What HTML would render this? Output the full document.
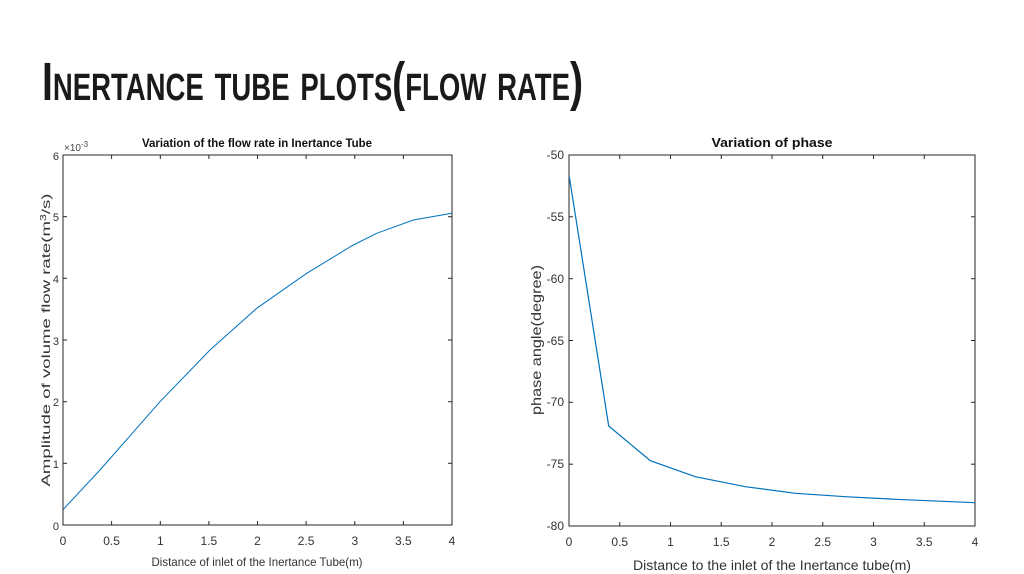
<!DOCTYPE html>
<html><head><style>html,body{margin:0;padding:0;background:#fff;}svg{display:block}</style></head>
<body>
<svg width="1024" height="574" xmlns="http://www.w3.org/2000/svg" font-family="Liberation Sans, sans-serif">
<rect width="1024" height="574" fill="#fff"/>
<text x="42" y="100" font-family="Liberation Sans Narrow, Liberation Sans, sans-serif" font-weight="bold" font-size="54" style="font-variant:small-caps" textLength="541" lengthAdjust="spacingAndGlyphs" fill="#1a1a1a">Inertance tube plots(flow rate)</text>

<!-- Left plot -->
<g stroke="#262626" stroke-width="1" fill="none">
<rect x="63" y="155" width="389" height="370"/>
</g>
<g stroke="#262626" stroke-width="1">
<line x1="111.6" y1="525" x2="111.6" y2="521"/><line x1="160.3" y1="525" x2="160.3" y2="521"/><line x1="208.9" y1="525" x2="208.9" y2="521"/><line x1="257.5" y1="525" x2="257.5" y2="521"/><line x1="306.1" y1="525" x2="306.1" y2="521"/><line x1="354.8" y1="525" x2="354.8" y2="521"/><line x1="403.4" y1="525" x2="403.4" y2="521"/>
<line x1="111.6" y1="155" x2="111.6" y2="159"/><line x1="160.3" y1="155" x2="160.3" y2="159"/><line x1="208.9" y1="155" x2="208.9" y2="159"/><line x1="257.5" y1="155" x2="257.5" y2="159"/><line x1="306.1" y1="155" x2="306.1" y2="159"/><line x1="354.8" y1="155" x2="354.8" y2="159"/><line x1="403.4" y1="155" x2="403.4" y2="159"/>
<line x1="63" y1="463.3" x2="67" y2="463.3"/><line x1="63" y1="401.7" x2="67" y2="401.7"/><line x1="63" y1="340" x2="67" y2="340"/><line x1="63" y1="278.3" x2="67" y2="278.3"/><line x1="63" y1="216.7" x2="67" y2="216.7"/>
<line x1="452" y1="463.3" x2="448" y2="463.3"/><line x1="452" y1="401.7" x2="448" y2="401.7"/><line x1="452" y1="340" x2="448" y2="340"/><line x1="452" y1="278.3" x2="448" y2="278.3"/><line x1="452" y1="216.7" x2="448" y2="216.7"/>
</g>
<g font-size="12" fill="#333" text-anchor="middle">
<text x="63" y="545">0</text><text x="111.6" y="545">0.5</text><text x="160.3" y="545">1</text><text x="208.9" y="545">1.5</text><text x="257.5" y="545">2</text><text x="306.1" y="545">2.5</text><text x="354.8" y="545">3</text><text x="403.4" y="545">3.5</text><text x="452" y="545">4</text>
</g>
<g font-size="11" fill="#333" text-anchor="end">
<text x="59" y="530">0</text><text x="59" y="468">1</text><text x="59" y="406">2</text><text x="59" y="345">3</text><text x="59" y="283">4</text><text x="59" y="221">5</text><text x="59" y="160">6</text>
</g>
<text x="64" y="151" font-size="10" fill="#444">×10<tspan dy="-4" font-size="8">-3</tspan></text>
<text x="257" y="147" font-size="12" font-weight="bold" text-anchor="middle" fill="#111" textLength="230" lengthAdjust="spacingAndGlyphs">Variation of the flow rate in Inertance Tube</text>
<text x="257" y="566" font-size="12" text-anchor="middle" fill="#333" textLength="211" lengthAdjust="spacingAndGlyphs">Distance of inlet of the Inertance Tube(m)</text>
<text transform="translate(50,340) rotate(-90)" font-size="12" text-anchor="middle" fill="#333" textLength="293" lengthAdjust="spacingAndGlyphs">Amplitude of volume flow rate(m<tspan dy="-4" font-size="8">3</tspan><tspan dy="4">/s)</tspan></text>
<polyline fill="none" stroke="#0072bd" stroke-width="1" points="63.3,509.3 100,470 160,401.7 210,350 256.7,308.3 306.7,273.3 353.3,245 376.7,233.3 413.3,220 452,213.3"/>

<!-- Right plot -->
<rect x="569" y="155" width="406" height="371" fill="none" stroke="#262626" stroke-width="1"/>
<g stroke="#262626" stroke-width="1">
<line x1="619.75" y1="526" x2="619.75" y2="522"/><line x1="670.5" y1="526" x2="670.5" y2="522"/><line x1="721.25" y1="526" x2="721.25" y2="522"/><line x1="772" y1="526" x2="772" y2="522"/><line x1="822.75" y1="526" x2="822.75" y2="522"/><line x1="873.5" y1="526" x2="873.5" y2="522"/><line x1="924.25" y1="526" x2="924.25" y2="522"/>
<line x1="619.75" y1="155" x2="619.75" y2="159"/><line x1="670.5" y1="155" x2="670.5" y2="159"/><line x1="721.25" y1="155" x2="721.25" y2="159"/><line x1="772" y1="155" x2="772" y2="159"/><line x1="822.75" y1="155" x2="822.75" y2="159"/><line x1="873.5" y1="155" x2="873.5" y2="159"/><line x1="924.25" y1="155" x2="924.25" y2="159"/>
<line x1="569" y1="464.2" x2="573" y2="464.2"/><line x1="569" y1="402.3" x2="573" y2="402.3"/><line x1="569" y1="340.5" x2="573" y2="340.5"/><line x1="569" y1="278.7" x2="573" y2="278.7"/><line x1="569" y1="216.8" x2="573" y2="216.8"/>
<line x1="975" y1="464.2" x2="971" y2="464.2"/><line x1="975" y1="402.3" x2="971" y2="402.3"/><line x1="975" y1="340.5" x2="971" y2="340.5"/><line x1="975" y1="278.7" x2="971" y2="278.7"/><line x1="975" y1="216.8" x2="971" y2="216.8"/>
</g>
<g font-size="12" fill="#333" text-anchor="middle">
<text x="569" y="546">0</text><text x="619.75" y="546">0.5</text><text x="670.5" y="546">1</text><text x="721.25" y="546">1.5</text><text x="772" y="546">2</text><text x="822.75" y="546">2.5</text><text x="873.5" y="546">3</text><text x="924.25" y="546">3.5</text><text x="975" y="546">4</text>
</g>
<g font-size="12" fill="#333" text-anchor="end">
<text x="564" y="530">-80</text><text x="564" y="468">-75</text><text x="564" y="406">-70</text><text x="564" y="345">-65</text><text x="564" y="283">-60</text><text x="564" y="221">-55</text><text x="564" y="159">-50</text>
</g>
<text x="772" y="147" font-size="13" font-weight="bold" text-anchor="middle" fill="#111" textLength="121" lengthAdjust="spacingAndGlyphs">Variation of phase</text>
<text x="772" y="570" font-size="14" text-anchor="middle" fill="#333" textLength="278" lengthAdjust="spacingAndGlyphs">Distance to the inlet of the Inertance tube(m)</text>
<text transform="translate(541,340) rotate(-90)" font-size="14" text-anchor="middle" fill="#333" textLength="150" lengthAdjust="spacingAndGlyphs">phase angle(degree)</text>
<polyline fill="none" stroke="#0072bd" stroke-width="1.2" points="569.3,176.7 608.7,426 650.3,460.7 695.3,476.7 745.3,486.7 795.3,493.3 845.3,496.7 895.3,499.3 975,502.7"/>
</svg>
</body></html>
